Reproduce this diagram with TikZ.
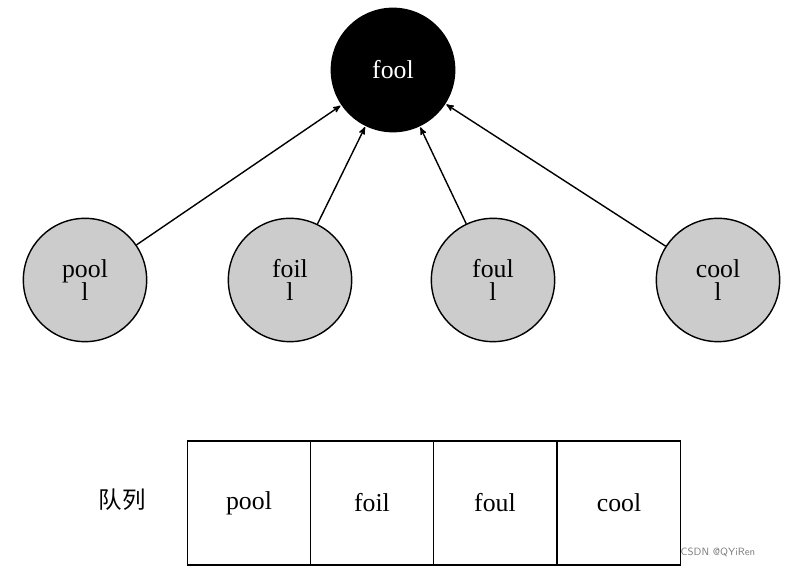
\documentclass[tikz,border=0pt]{standalone}
\usepackage{fontspec}
\setmainfont{Liberation Serif}
\newfontfamily\cjk{Noto Sans CJK SC}
\usetikzlibrary{arrows}
\definecolor{nodegray}{RGB}{204, 204, 204}

\begin{document}
\begin{tikzpicture}[x=0.03cm, y=-0.03cm,
    word/.style={circle, draw=black, line width=1.2pt, fill=nodegray, minimum size=3.7cm,
                 inner sep=0pt, align=center, font=\fontsize{22}{20}\selectfont},
    cell/.style={draw=black, line width=1.2pt, minimum width=3.69cm, minimum height=3.72cm,
                 inner sep=0pt, font=\fontsize{22}{22}\selectfont},
    link/.style={-stealth', line width=1.2pt, shorten >=1pt}]
            % Frame to ensure alignment:
            \useasboundingbox (0,0) rectangle (800,572);
            % Root
            \node[word, fill=black, text=white] (fool) at (393, 70) {fool};
            % Neighbours
            \node[word] (pool) at ( 85,280) {pool\\l};
            \node[word] (foil) at (290,280) {foil\\l};
            \node[word] (foul) at (493,280) {foul\\l};
            \node[word] (cool) at (718,280) {cool\\l};
            \foreach \w in {pool, foil, foul, cool}
                \draw[link] (\w) -- (fool);
            % Queue
            \node[cell] (q1) at (249,503) {pool};
            \node[cell] (q2) at (372,503) {foil};
            \node[cell] (q3) at (495,503) {foul};
            \node[cell] (q4) at (619,503) {cool};
            \node[font=\cjk\fontsize{20}{20}\selectfont] (qlabel) at (122,500) {队列};
            \node[font=\sffamily\fontsize{9}{9}\selectfont, text=gray] (mark) at (718,552) {CSDN @QYiRen};
        \end{tikzpicture}
\end{document}
